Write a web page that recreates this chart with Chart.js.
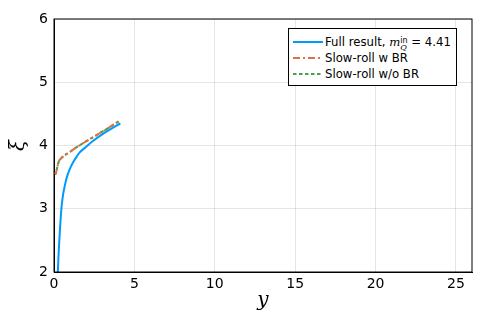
<!DOCTYPE html>
<html lang="en">
<head>
  <meta charset="UTF-8">
  <title>xi vs y</title>
  <script src="https://cdn.jsdelivr.net/npm/chart.js"></script>
  <style>
    body { margin: 0; background: #fff; }
    #wrap { position: relative; width: 491px; height: 327px; }
    #legend { position: absolute; left: 288px; top: 28px; width: 169px; height: 58px; border: 1px solid #000; background: #fff;
      font-family: "DejaVu Sans", sans-serif; font-size: 11.7px; color: #000; box-sizing: border-box; }
    .row { position: absolute; left: 4px; height: 16px; line-height: 16px; white-space: nowrap; }
    .row canvas { vertical-align: middle; }
    .row span.t { position: relative; top: 1px; margin-left: 2px; }
    .m { font-family: "DejaVu Serif", serif; font-style: italic; }
    .ss { display: inline-block; vertical-align: -4px; line-height: 7px; font-size: 8px; text-align: left; }
    .ss i { font-family: "DejaVu Serif", serif; }
  </style>
</head>
<body>
<div id="wrap">
  <canvas id="chart" width="491" height="327"></canvas>
  <div id="legend"></div>
</div>
<script>
// full result
const fullY   = [0.24, 0.28, 0.33, 0.39, 0.46, 0.55, 0.66, 0.80, 0.97, 1.18, 1.40, 1.60, 2.00, 2.42, 3.25, 4.13];
const fullXi  = [2.00, 2.25, 2.50, 2.75, 3.00, 3.20, 3.35, 3.50, 3.62, 3.73, 3.82, 3.89, 3.98, 4.07, 4.22, 4.35];
// slow-roll with back-reaction
const srBrY   = [0.05, 0.10, 0.18, 0.30, 0.45, 1.00, 1.39, 2.42, 3.46, 4.13];
const srBrXi  = [3.58, 3.55, 3.63, 3.75, 3.80, 3.90, 3.97, 4.13, 4.29, 4.40];
// slow-roll without back-reaction
const srNoY   = [0.05, 0.10, 0.18, 0.30, 0.45, 1.00, 1.39, 2.42, 3.46, 4.13];
const srNoXi  = [3.58, 3.55, 3.63, 3.75, 3.80, 3.90, 3.97, 4.13, 4.29, 4.40];

const xTicks = [0, 5, 10, 15, 20, 25];
const yTicks = [2, 3, 4, 5, 6];

const pts = (xs, ys) => xs.map((x, i) => ({ x: x, y: ys[i] }));

const series = [
  { label: 'full', color: '#009AFA', dash: [], data: pts(fullY, fullXi) },
  { label: 'Slow-roll w BR', color: '#E36F47', dash: [7, 3, 2, 3], data: pts(srBrY, srBrXi) },
  { label: 'Slow-roll w/o BR', color: '#3EA44E', dash: [3.5, 2.5], data: pts(srNoY, srNoXi) }
];

const frame = {
  id: 'frame',
  afterDraw(chart) {
    const c = chart.ctx, a = chart.chartArea;
    c.save();
    c.strokeStyle = '#000';
    c.lineWidth = 1;
    c.strokeRect(a.left, a.top, a.right - a.left, a.bottom - a.top);
    c.fillStyle = '#000';
    c.font = 'italic 20px "DejaVu Serif", serif';
    c.textAlign = 'center';
    c.textBaseline = 'middle';
    c.fillText('y', (a.left + a.right) / 2, 301);
    c.translate(19, (a.top + a.bottom) / 2);
    c.rotate(-Math.PI / 2);
    c.fillText('ξ', 0, 0);
    c.restore();
  }
};

new Chart(document.getElementById('chart').getContext('2d'), {
  type: 'scatter',
  data: {
    datasets: series.map(s => ({
      label: s.label, data: s.data, showLine: true, borderColor: s.color, borderWidth: 2,
      borderDash: s.dash, pointRadius: 0, fill: false, cubicInterpolationMode: 'monotone'
    }))
  },
  options: {
    responsive: false, animation: false,
    layout: { padding: { top: 19, right: 19, left: 0, bottom: 0 } },
    plugins: { legend: { display: false }, tooltip: { enabled: false } },
    scales: {
      x: {
        type: 'linear', min: 0, max: 26,
        afterBuildTicks: ax => { ax.ticks = xTicks.map(v => ({ value: v })); },
        afterFit: ax => { ax.height = 55; },
        grid: { color: 'rgba(0,0,0,0.1)', drawTicks: false },
        border: { color: '#000' },
        ticks: { color: '#000', padding: 4, maxRotation: 0, font: { family: 'DejaVu Sans', size: 14 } }
      },
      y: {
        type: 'linear', min: 2, max: 6,
        afterBuildTicks: ax => { ax.ticks = yTicks.map(v => ({ value: v })); },
        afterFit: ax => { ax.width = 54; },
        grid: { color: 'rgba(0,0,0,0.1)', drawTicks: false },
        border: { color: '#000' },
        ticks: { color: '#000', padding: 6, font: { family: 'DejaVu Sans', size: 14 } }
      }
    }
  },
  plugins: [frame]
});

// legend
const labels = [
  'Full result, <span class="m">m</span><span class="ss">in<br><i>Q</i></span> = 4.41',
  'Slow-roll w BR',
  'Slow-roll w/o BR'
];
const leg = document.getElementById('legend');
series.forEach((s, i) => {
  const row = document.createElement('div');
  row.className = 'row';
  row.style.top = (4 + i * 16) + 'px';
  const cv = document.createElement('canvas');
  cv.width = 30; cv.height = 8;
  const c = cv.getContext('2d');
  c.strokeStyle = s.color; c.lineWidth = 2; c.setLineDash(s.dash);
  c.beginPath(); c.moveTo(0, 4); c.lineTo(30, 4); c.stroke();
  row.appendChild(cv);
  const t = document.createElement('span');
  t.className = 't';
  t.innerHTML = labels[i];
  row.appendChild(t);
  leg.appendChild(row);
});
</script>
</body>
</html>
